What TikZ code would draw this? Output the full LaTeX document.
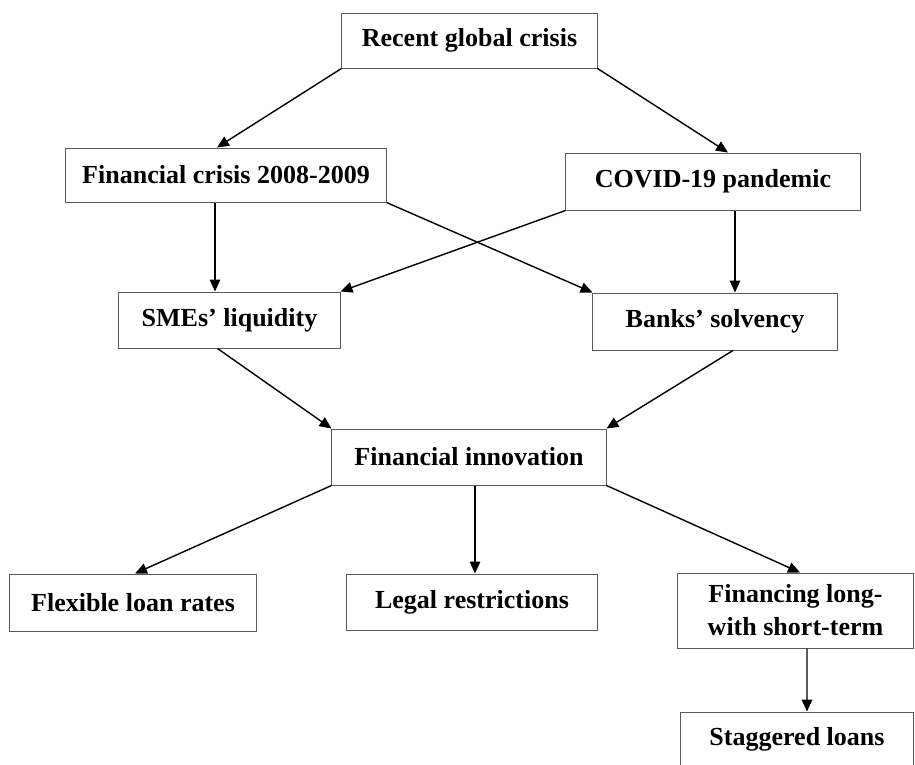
\documentclass[tikz,border=0pt]{standalone}
\usepackage{fontspec}
\setmainfont{Liberation Serif}
\usetikzlibrary{arrows.meta,calc,positioning}
\tikzset{
  every picture/.style = {
    x = 0.025cm,
    y = -0.025cm,
    >={Triangle[length=8.5pt,width=7.5pt]},
  }
  ,
  box/.style = {
    rectangle,
    draw = black!65,
    line width = 0.7pt,
    font = \fontsize{18.5}{23.5}\selectfont\bfseries,
    align = center,
    inner sep = 0pt
  }
  , % connectors
  link/.style = {
    ->,
    line width = 1pt
  }
}
\begin{document}
\begin{tikzpicture}
\useasboundingbox (0,0) rectangle (915,764);
\node[box, minimum width=6.375cm, minimum height=1.375cm] at (469.5,40.5) (recent) {Recent global crisis};
\node[box, minimum width=8cm, minimum height=1.35cm] at (226,175) (fincrisis) {Financial crisis 2008-2009};
\node[box, minimum width=7.35cm, minimum height=1.425cm] at (713,181.5) (covid) {COVID-19 pandemic};
\node[box, minimum width=5.525cm, minimum height=1.4cm] at (229.5,320) (smes) {SMEs’ liquidity};
\node[box, minimum width=6.1cm, minimum height=1.425cm] at (715,321.5) (banks) {Banks’ solvency};
\node[box, minimum width=6.85cm, minimum height=1.4cm] at (469,457) (finnov) {Financial innovation};
\node[box, minimum width=6.15cm, minimum height=1.425cm] at (133,602.5) (flexible) {Flexible loan rates};
\node[box, minimum width=6.25cm, minimum height=1.4cm] at (472,602) (legal) {Legal restrictions};
\node[box, minimum width=5.875cm, minimum height=1.875cm] at (795.5,610.5) (financing) {Financing long-\\with short-term};
\node[box, minimum width=5.8cm, minimum height=1.5cm, text depth=0pt] at (797,742) (staggered) {\raisebox{8pt}{Staggered loans}};
% crisis level
\draw[link] (recent.south west) -- ($(fincrisis.north)+(-9,0)$);
\draw[link] (recent.south east) -- ($(covid.north)+(15,0)$);
% crossing links
\draw[link] ($(fincrisis.south)+(-11,0)$) -- ($(smes.north)+(-14.5,0)$);
\draw[link] (fincrisis.south east) -- (banks.north west);
\draw[link] (covid.south west) -- (smes.north east);
\draw[link] ($(covid.south)+(22,0)$) -- ($(banks.north)+(20,0)$);
% into innovation
\draw[link] ($(smes.south)+(-12,0)$) -- (finnov.north west);
\draw[link] ($(banks.south)+(18,0)$) -- (finnov.north east);
% out of innovation
\draw[link] (finnov.south west) -- ($(flexible.north)+(2,0)$);
\draw[link] ($(finnov.south)+(6,0)$) -- ($(legal.north)+(3,0)$);
\draw[link] (finnov.south east) -- ($(financing.north)+(4.5,0)$);
\draw[link] ($(financing.south)+(11.5,0)$) -- ($(staggered.north)+(10,0)$);
\end{tikzpicture}
\end{document}
